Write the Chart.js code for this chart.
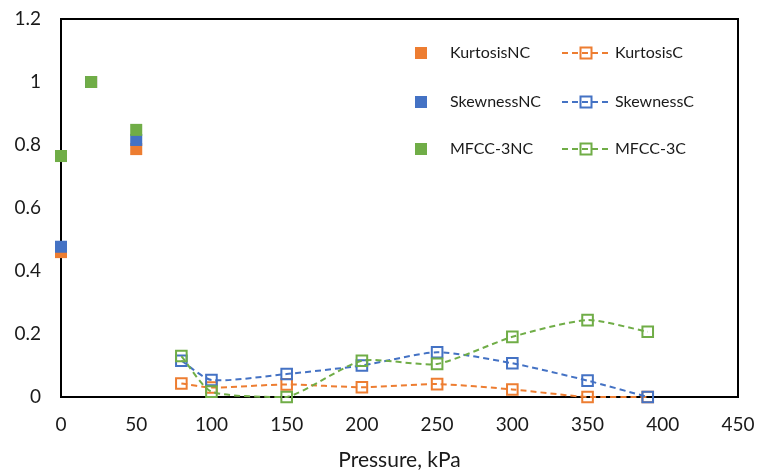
<!DOCTYPE html>
<html>
<head>
<meta charset="utf-8">
<script src="https://cdn.jsdelivr.net/npm/chart.js@4"></script>
<style>
  html, body { margin: 0; padding: 0; background: #fff; }
  #wrap { width: 757px; height: 473px; }
</style>
</head>
<body>
<div id="wrap"><canvas id="myChart" width="757" height="473"></canvas></div>
<script>
// data
const pressureNC = [0, 20, 50];
const kurtosisNC = [0.46, 1.0, 0.787];
const skewnessNC = [0.477, 1.0, 0.816];
const mfccNC = [0.765, 1.0, 0.848];

const pressureC = [80, 100, 150, 200, 250, 300, 350, 390];
const kurtosisC = [0.043, 0.03, 0.04, 0.031, 0.041, 0.024, 0.0, 0.0];
const skewnessC = [0.115, 0.054, 0.073, 0.10, 0.142, 0.107, 0.052, 0.0];
const mfccC = [0.13, 0.017, 0.0, 0.115, 0.105, 0.191, 0.244, 0.207];

const xTicks = [0, 50, 100, 150, 200, 250, 300, 350, 400, 450];
const yTicks = [0, 0.2, 0.4, 0.6, 0.8, 1, 1.2];

const colors = {
    orange: "#ED7D31",
    blue: "#4472C4",
    green: "#70AD47"
};

const FONT = "Lato, 'Open Sans', sans-serif";

function pts(xs, ys) {
    return xs.map((x, i) => ({ x: x, y: ys[i] }));
}

function ncSet(label, ys, color, order) {
    return {
        label: label,
        data: pts(pressureNC, ys),
        showLine: false,
        clip: false,
        pointStyle: "rect",
        pointRadius: 8.5,
        pointHoverRadius: 8.5,
        pointBackgroundColor: color,
        pointBorderColor: color,
        pointBorderWidth: 0,
        borderColor: color,
        backgroundColor: color,
        order: order,
        kind: "nc"
    };
}

function cSet(label, ys, color, order) {
    return {
        label: label,
        data: pts(pressureC, ys),
        showLine: true,
        clip: false,
        borderColor: color,
        borderWidth: 2,
        borderDash: [6, 4],
        tension: 0.22,
        fill: false,
        pointStyle: "rect",
        pointRadius: 7.5,
        pointHoverRadius: 7.5,
        pointBackgroundColor: "rgba(0,0,0,0)",
        pointBorderColor: color,
        pointBorderWidth: 2,
        backgroundColor: "rgba(0,0,0,0)",
        order: order,
        kind: "c"
    };
}

// box round the plot area and the two column legend
const boxAndLegend = {
    id: "boxAndLegend",
    beforeDatasetsDraw(chart) {
        const ctx = chart.ctx;
        const a = chart.chartArea;
        ctx.save();
        ctx.strokeStyle = "#000";
        ctx.lineWidth = 2;
        ctx.strokeRect(a.left, a.top, a.right - a.left, a.bottom - a.top);
        ctx.restore();
    },
    afterDraw(chart) {
        const ctx = chart.ctx;
        ctx.save();
        ctx.font = "16px " + FONT;
        ctx.textBaseline = "middle";
        const rows = [53, 102, 149];
        chart.data.datasets.forEach(ds => {
            const y = rows[ds.row];
            if (ds.kind === "nc") {
                ctx.fillStyle = ds.pointBackgroundColor;
                ctx.fillRect(415, y - 6, 12, 12);
                ctx.fillStyle = "#1a1a1a";
                ctx.fillText(ds.label, 450, y);
            } else {
                ctx.strokeStyle = ds.borderColor;
                ctx.lineWidth = 2;
                ctx.setLineDash([6, 4]);
                ctx.beginPath();
                ctx.moveTo(562, y);
                ctx.lineTo(609, y);
                ctx.stroke();
                ctx.setLineDash([]);
                ctx.strokeRect(580.5, y - 5.5, 11, 11);
                ctx.fillStyle = "#1a1a1a";
                ctx.fillText(ds.label, 615, y);
            }
        });
        ctx.restore();
    }
};

const datasets = [
    Object.assign(ncSet("KurtosisNC", kurtosisNC, colors.orange, 6), { row: 0 }),
    Object.assign(ncSet("SkewnessNC", skewnessNC, colors.blue, 5), { row: 1 }),
    Object.assign(ncSet("MFCC-3NC", mfccNC, colors.green, 4), { row: 2 }),
    Object.assign(cSet("KurtosisC", kurtosisC, colors.orange, 3), { row: 0 }),
    Object.assign(cSet("SkewnessC", skewnessC, colors.blue, 2), { row: 1 }),
    Object.assign(cSet("MFCC-3C", mfccC, colors.green, 1), { row: 2 })
];

const ctx = document.getElementById("myChart").getContext("2d");
const myChart = new Chart(ctx, {
    type: "scatter",
    data: { datasets: datasets },
    options: {
        responsive: false,
        animation: false,
        layout: { padding: { left: 0, right: 19, top: 19, bottom: 0 } },
        plugins: {
            legend: { display: false },
            tooltip: { enabled: false }
        },
        scales: {
            x: {
                type: "linear",
                min: 0,
                max: 450,
                afterBuildTicks(scale) {
                    scale.ticks = xTicks.map(v => ({ value: v }));
                },
                grid: { display: false, drawTicks: false },
                border: { display: false },
                ticks: {
                    color: "#1a1a1a",
                    font: { family: FONT, size: 19 },
                    padding: 16,
                    maxRotation: 0
                },
                title: {
                    display: true,
                    text: "Pressure, kPa",
                    color: "#1a1a1a",
                    font: { family: FONT, size: 21 },
                    padding: { top: 6, bottom: 0 }
                },
                afterFit(scale) {
                    scale.height = 76;
                    scale.paddingLeft = 0;
                    scale.paddingRight = 0;
                }
            },
            y: {
                type: "linear",
                min: 0,
                max: 1.2,
                afterBuildTicks(scale) {
                    scale.ticks = yTicks.map(v => ({ value: v }));
                },
                grid: { display: false, drawTicks: false },
                border: { display: false },
                ticks: {
                    color: "#1a1a1a",
                    font: { family: FONT, size: 19 },
                    padding: 20,
                    callback: v => String(+Number(v).toFixed(1))
                },
                afterFit(scale) {
                    scale.width = 61;
                    scale.paddingTop = 0;
                    scale.paddingBottom = 0;
                }
            }
        }
    },
    plugins: [boxAndLegend]
});
</script>
</body>
</html>
